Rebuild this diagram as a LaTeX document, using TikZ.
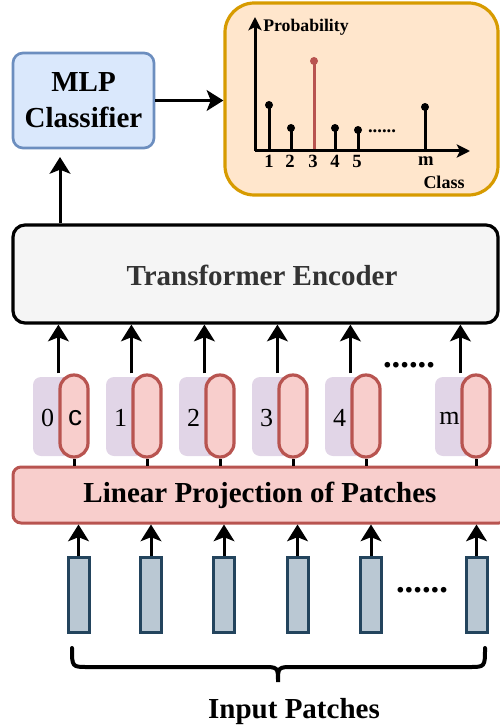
\documentclass[tikz,border=0pt]{standalone}
\usepackage{fontspec}
\setmainfont{Liberation Serif}
\newfontfamily\sansf{Liberation Sans}
\usetikzlibrary{arrows.meta}
\definecolor{mlpfill}{HTML}{DAE8FC}
\definecolor{mlpdraw}{HTML}{6C8EBF}
\definecolor{tefill}{HTML}{F5F5F5}
\definecolor{tetext}{HTML}{333333}
\definecolor{pbfill}{HTML}{FFE6CC}
\definecolor{pbdraw}{HTML}{D79B00}
\definecolor{redfill}{HTML}{F8CECC}
\definecolor{reddraw}{HTML}{B85450}
\definecolor{purfill}{HTML}{E1D5E7}
\definecolor{patfill}{HTML}{BAC8D3}
\definecolor{patdraw}{HTML}{23445D}
\begin{document}
\begin{tikzpicture}[x=0.75pt,y=-0.75pt,
  arr/.style={line width=2.25pt,-{Stealth[length=12.5pt,width=15.5pt,inset=3pt]}},
  axarr/.style={line width=2.25pt,-{Stealth[length=10pt,width=10pt,inset=2.5pt]}},
  conn/.style={line width=2.25pt},
  bigfont/.style={font=\fontsize{21.75pt}{27pt}\selectfont\bfseries},
  mlpbox/.style={draw=mlpdraw,fill=mlpfill,line width=2pt,rounded corners=7.5pt,
    minimum width=105.75pt,minimum height=71.25pt,inner sep=0pt,align=center,bigfont},
  pbbox/.style={draw=pbdraw,fill=pbfill,line width=2.4pt,rounded corners=22pt,
    minimum width=204.75pt,minimum height=144pt,inner sep=0pt},
  tebox/.style={draw=black,fill=tefill,line width=2.4pt,rounded corners=9pt,
    minimum width=363.75pt,minimum height=73.5pt,inner sep=0pt},
  lpbox/.style={draw=reddraw,fill=redfill,line width=2.25pt,rounded corners=6pt,
    minimum width=370.5pt,minimum height=42pt,inner sep=0pt,bigfont},
  pill/.style={draw=reddraw,fill=redfill,line width=2.4pt,rounded corners=10.5pt,
    minimum width=21pt,minimum height=61.5pt,inner sep=0pt},
  purbox/.style={fill=purfill,rounded corners=6pt,minimum width=36.75pt,
    minimum height=59.25pt,inner sep=0pt},
  patch/.style={draw=patdraw,fill=patfill,line width=2.25pt,minimum width=15.75pt,
    minimum height=56.25pt,inner sep=0pt},
  toklabel/.style={font=\fontsize{19.5pt}{22pt}\selectfont,inner sep=0pt},
  axlabel/.style={font=\fontsize{14pt}{16pt}\selectfont\bfseries,inner sep=0pt},
  dotsbig/.style={font=\fontsize{26pt}{28pt}\selectfont\bfseries,inner sep=0pt,anchor=base},
]
\useasboundingbox (0,0) rectangle (499,727);

% MLP classifier and probability box
\node[mlpbox] (mlp) at (83.5,100.5) {MLP\\Classifier};
\node[pbbox] (pb) at (361.5,99) {};
\draw[arr] (mlp.east) -- (mlp.east -| pb.west);

% probability plot
\coordinate (O) at (255,151);
\coordinate (ytop) at (255,17);
\coordinate (xend) at (470,151);
\foreach \X/\Y in {269/105,291/128,335/128,358/130,425/107}{
  \draw[conn] (\X,151) -- (\X,\Y);
  \fill (\X,\Y) circle (3pt);
}
\draw[conn,draw=reddraw] (314,151) -- (314,61);
\fill[reddraw] (314,61) circle (3pt);
\draw[axarr] (O) -- (ytop);
\draw[axarr] (O) -- (xend);
\node[axlabel,anchor=west,font=\fontsize{13.3pt}{15pt}\selectfont\bfseries] (prob) at (263,27) {Probability};
\node[axlabel,font=\fontsize{13.5pt}{15pt}\selectfont\bfseries] (cls) at (444,182) {Class};
\foreach \X/\t [count=\k] in {269/1,290/2,313/3,335/4,357/5,426/m}{
  \node[axlabel] (xl\k) at (\X,161) {\t};
}
\node[font=\fontsize{14pt}{16pt}\selectfont\bfseries,inner sep=0pt,anchor=base] (pbdots) at (382,133) {......};

% transformer encoder
\node[tebox] (te) at (255.5,274) {};
\node[bigfont,text=tetext,inner sep=0pt] (tetxt) at (262,275) {Transformer Encoder};
\coordinate (mlpin) at (60,157);
\draw[arr] (te.north -| mlpin) -- (mlpin);

% linear projection
\node[lpbox] (lp) at (260,495) {Linear Projection of Patches};

% tokens
\foreach \i/\L/\t in {0/60/0,1/133/1,2/206/2,3/279/3,4/352/4,5/462/m}{
  \node[purbox] (p\i) at (\L-2.5,416.5) {};
  \node[toklabel] (tl\i) at (\L-12.5,418) {\t};
}
\foreach \i/\L in {0/60,1/133,2/206,3/279,4/352,5/462}{
  \node[pill] (r\i) at (\L+14,416) {};
  \draw[arr] (r\i.north west) -- (r\i.north west |- te.south);
  \draw[conn] (r\i.south) -- (r\i.south |- lp.north);
}
\node[font=\fontsize{21pt}{22pt}\selectfont\sansf,inner sep=0pt] (cl) at (75,418) {c};
\node[dotsbig] (topdots) at (409,367) {......};

% patches
\foreach \i/\X in {0/78.5,1/151,2/224,3/297.5,4/371,5/476.5}{
  \node[patch] (pt\i) at (\X,594.5) {};
  \draw[arr] (pt\i.north) -- (pt\i.north |- lp.south);
}
\node[dotsbig] (botdots) at (422,592) {......};

% brace
\draw[line width=3pt,line cap=round]
  (72,648) .. controls (72,667) .. (88,667) -- (262,667)
  .. controls (278,667) .. (278,682)
  .. controls (278,667) .. (294,667) -- (469,667)
  .. controls (485,667) .. (485,648);
\node[font=\fontsize{21.75pt}{24pt}\selectfont\bfseries,inner sep=0pt] (inp) at (294,712) {Input Patches};
\end{tikzpicture}
\end{document}
